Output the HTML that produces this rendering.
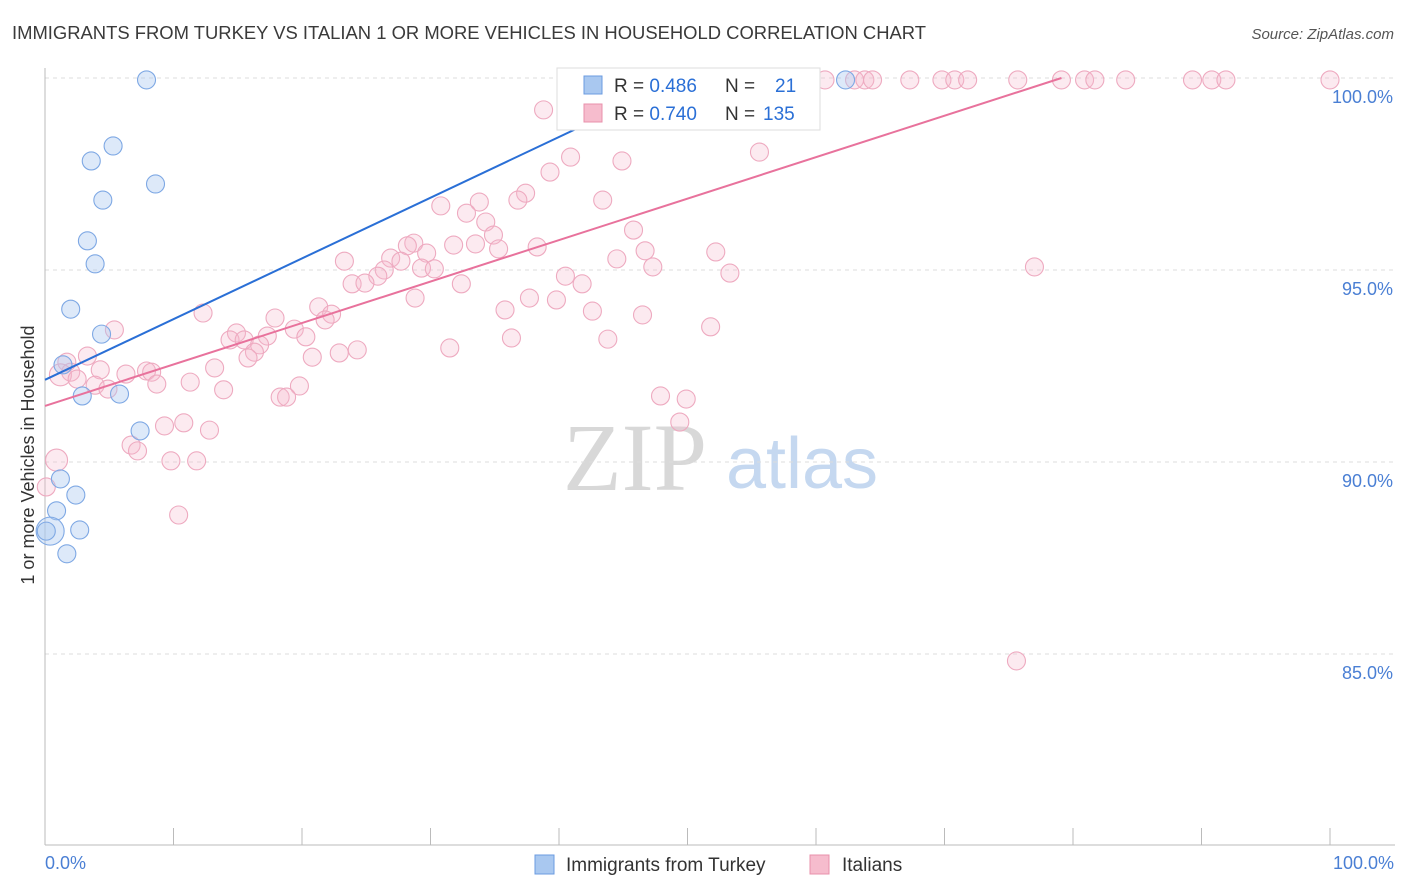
<!DOCTYPE html>
<html><head><meta charset="utf-8">
<style>
body{margin:0;background:#fff;font-family:"Liberation Sans",sans-serif;}
svg{display:block}
</style></head>
<body>
<svg id="chart" width="1406" height="892">
<text x="12" y="39" font-size="18.4" fill="#3a3a3a" textLength="914" lengthAdjust="spacingAndGlyphs">IMMIGRANTS FROM TURKEY VS ITALIAN 1 OR MORE VEHICLES IN HOUSEHOLD CORRELATION CHART</text>
<text x="1394" y="39" font-size="15" fill="#555" font-style="italic" text-anchor="end">Source: ZipAtlas.com</text>
<g>
<text x="635" y="490" font-size="96" font-family="Liberation Serif,serif" fill="#d8d8d8" text-anchor="middle">ZIP</text>
<text x="802" y="488" font-size="72" fill="#c5d8f0" text-anchor="middle">atlas</text>
</g>
<g id="grid"></g>
<g id="axes"></g>
<g id="points"></g>
<g id="lines"></g>
<text transform="translate(34,455) rotate(-90)" font-size="18" fill="#333" text-anchor="middle">1 or more Vehicles in Household</text>
<text x="45" y="869" font-size="18" fill="#4a7fd4">0.0%</text>
<text x="1394" y="869" font-size="18" fill="#4a7fd4" text-anchor="end">100.0%</text>
<g>
<rect x="557" y="68" width="263" height="62" fill="#fff" stroke="#ddd"/>
<rect x="584" y="76" width="18" height="18" fill="#a9c8f0" stroke="#6b9be0"/>
<rect x="584" y="104" width="18" height="18" fill="#f6bccd" stroke="#e890ab"/>
<text x="614" y="92" font-size="19" fill="#333">R = <tspan fill="#2a6fd6">0.486</tspan><tspan x="725">N = </tspan><tspan x="775" fill="#2a6fd6">21</tspan></text>
<text x="614" y="120" font-size="19" fill="#333">R = <tspan fill="#2a6fd6">0.740</tspan><tspan x="725">N = </tspan><tspan x="763" fill="#2a6fd6">135</tspan></text>
</g>
<g>
<rect x="535" y="855" width="19" height="19" fill="#a9c8f0" stroke="#6b9be0"/>
<text x="566" y="871" font-size="19" fill="#333">Immigrants from Turkey</text>
<rect x="810" y="855" width="19" height="19" fill="#f6bccd" stroke="#e890ab"/>
<text x="842" y="871" font-size="19" fill="#333">Italians</text>
</g>
</svg>
<script>
const yTicks=[100,95,90,85];
const yTickLabels=["100.0%","95.0%","90.0%","85.0%"];
const xTicks=[0,10,20,30,40,50,60,70,80,90,100];
const turkeyX=[7.9,5.3,3.6,8.6,4.5,3.3,3.9,2.0,4.4,1.4,2.9,5.8,7.4,1.2,2.4,0.9,0.4,2.7,1.7,62.3,0.1];
const turkeyY=[99.95,98.23,97.84,97.24,96.82,95.76,95.16,93.98,93.33,92.53,91.72,91.77,90.81,89.56,89.14,88.73,88.2,88.23,87.61,99.95,88.2];
const turkeyR=[9,9,9,9,9,9,9,9,9,9,9,9,9,9,9,9,14,9,9,9,9];
const italX=[41.5,43.2,44.1,45.7,47.9,51.0,52.5,54.1,55.6,56.4,58.0,58.8,60.7,63.0,63.8,64.4,67.3,69.8,70.8,71.8,75.7,79.1,80.9,81.7,84.1,89.3,90.8,91.9,100,
38.8,54.7,40.9,44.9,55.6,39.3,37.4,36.8,43.4,30.8,33.8,32.8,34.3,34.9,45.8,28.7,28.2,33.5,31.8,35.3,38.3,46.7,52.2,29.7,26.9,27.7,23.3,44.5,47.3,29.3,30.3,26.4,25.9,53.3,40.5,77.0,23.9,24.9,32.4,41.8,28.8,37.7,39.8,21.3,35.8,42.6,46.5,12.3,17.9,22.3,21.8,19.4,5.4,14.9,51.8,17.3,20.3,14.4,15.5,36.3,43.8,16.7,16.3,24.3,22.9,31.5,15.8,20.8,3.3,1.7,2.0,1.2,4.3,13.2,7.9,8.3,6.3,2.5,11.3,8.7,3.9,4.9,19.8,13.9,18.3,18.8,47.9,49.9,10.8,9.3,12.8,49.4,6.7,7.2,9.8,11.8,0.9,0.1,10.4,75.6];
const italY=[99.95,99.95,99.95,99.95,99.95,99.95,99.95,99.95,99.95,99.95,99.95,99.95,99.95,99.95,99.95,99.95,99.95,99.95,99.95,99.95,99.95,99.95,99.95,99.95,99.95,99.95,99.95,99.95,99.95,
99.17,99.17,97.94,97.84,98.07,97.55,97.0,96.82,96.82,96.67,96.77,96.48,96.25,95.91,96.04,95.7,95.63,95.68,95.65,95.55,95.6,95.5,95.47,95.44,95.31,95.23,95.23,95.29,95.08,95.05,95.03,95.0,94.84,94.92,94.84,95.08,94.64,94.66,94.64,94.64,94.27,94.27,94.22,94.04,93.96,93.93,93.83,93.88,93.75,93.85,93.7,93.46,93.44,93.36,93.52,93.28,93.26,93.18,93.18,93.23,93.2,93.05,92.86,92.92,92.84,92.97,92.71,92.73,92.76,92.6,92.34,92.27,92.4,92.45,92.37,92.34,92.29,92.16,92.08,92.03,92.0,91.9,91.98,91.88,91.69,91.69,91.72,91.64,91.02,90.94,90.83,91.04,90.44,90.29,90.03,90.03,90.05,89.35,88.62,84.82];
const turkeyLine=[0,92.14,49.4,99.95];
const italLine=[0,91.46,79.1,100];
const NS="http://www.w3.org/2000/svg";
const X=v=>45+v*12.85, Y=v=>78+(100-v)*38.4;
function mk(t,a,p){const e=document.createElementNS(NS,t);for(const k in a)e.setAttribute(k,a[k]);document.getElementById(p).appendChild(e);return e;}
yTicks.forEach((t,i)=>{
 const l=mk('line',{x1:45,x2:1395,y1:Y(t),y2:Y(t),stroke:'#dcdcdc','stroke-dasharray':'4,4'},'grid');
 
 
 const tx=mk('text',{x:1393,y:Y(t)+25,'font-size':18,fill:'#4a7fd4','text-anchor':'end'},'grid');
 tx.textContent=yTickLabels[i];
 
 
});
const ya=mk('line',{x1:45,x2:45,y1:68,y2:845,stroke:'#bbb'},'axes');


const xa=mk('line',{x1:45,x2:1395,y1:845,y2:845,stroke:'#bbb'},'axes');


xTicks.forEach(t=>{
 const l=mk('line',{x1:X(t),x2:X(t),y1:828,y2:845,stroke:'#bbb'},'axes');
 
 
});
italX.forEach((x,i)=>{
 const c=mk('circle',{cx:X(x),cy:Y(italY[i]),r:(x<1.5&&italY[i]>90)?11:9,fill:'rgba(246,185,205,0.3)',stroke:'#eeaac0','stroke-width':1.1},'points');
 
 
});
turkeyX.forEach((x,i)=>{
 const c=mk('circle',{cx:X(x),cy:Y(turkeyY[i]),r:turkeyR[i],fill:'rgba(170,200,240,0.4)',stroke:'#7ea8e4','stroke-width':1.1},'points');
 
 
});
const l1=mk('line',{x1:X(turkeyLine[0]),y1:Y(turkeyLine[1]),x2:X(turkeyLine[2]),y2:Y(turkeyLine[3]),stroke:'#2a6fd6','stroke-width':2},'lines');


const l2=mk('line',{x1:X(italLine[0]),y1:Y(italLine[1]),x2:X(italLine[2]),y2:Y(italLine[3]),stroke:'#e8729c','stroke-width':2},'lines');


</script>
</body></html>
